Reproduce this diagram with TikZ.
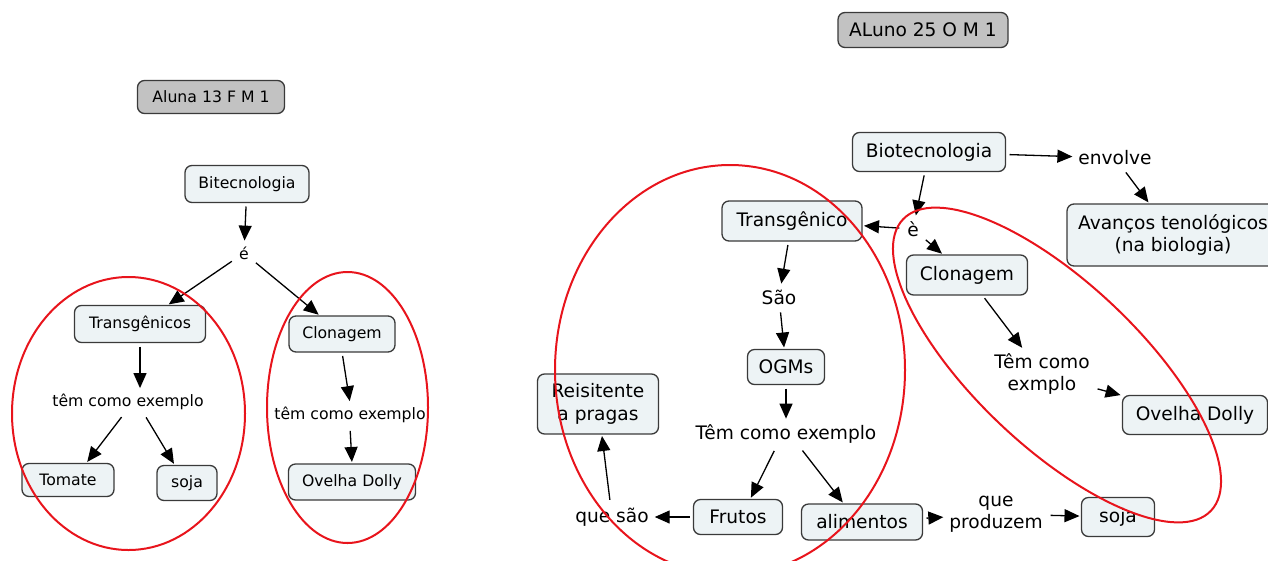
\documentclass[tikz,border=0pt]{standalone}
\usepackage{fontspec}
\setmainfont{DejaVu Sans}
\usetikzlibrary{arrows.meta}
\definecolor{boxfill}{HTML}{EDF3F5}
\definecolor{boxline}{HTML}{3A3A3A}
\definecolor{titlefill}{HTML}{C2C2C2}
\definecolor{ringred}{HTML}{E8141C}

\begin{document}
\begin{tikzpicture}[x=1pt,y=-1pt,
  concept/.style={draw=boxline, fill=boxfill, rounded corners=7pt, line width=1.3pt,
                  inner sep=0pt, outer sep=0pt, align=center},
  titlebox/.style={concept, fill=titlefill},
  phrase/.style={inner sep=1pt, outer sep=3pt, align=center},
  smalltext/.style={font=\fontsize{15.7}{18.5}\selectfont},
  bigtext/.style={font=\fontsize{18.6}{22.5}\selectfont},
  link/.style={line width=1.3pt, draw=black,
               -{Triangle[length=15pt,width=13pt]}, shorten <=4pt, shorten >=2pt},
  ring/.style={draw=ringred, line width=2pt}]

\useasboundingbox (0,0) rectangle (1268,560);
\clip (0,0) rectangle (1268,560);

% ---------- first map ----------
\node[titlebox,smalltext,minimum width=147,minimum height=33] (t1) at (211,97) {Aluna 13 F M 1};
\node[concept,smalltext,minimum width=124,minimum height=37] (bio1) at (247,184) {Bitecnologia};
\node[phrase,smalltext] (e1) at (244,253) {é};
\node[concept,smalltext,minimum width=131,minimum height=37] (tr1) at (140,324) {Transgênicos};
\node[concept,smalltext,minimum width=106,minimum height=36] (cl1) at (342,334) {Clonagem};
\node[phrase,smalltext] (ex1) at (128,402) {têm como exemplo};
\node[phrase,smalltext] (ex2) at (350,415) {têm como exemplo};
\node[concept,smalltext,minimum width=92,minimum height=33] (tom) at (68,480) {Tomate};
\node[concept,smalltext,minimum width=60,minimum height=35] (soja1) at (187,483) {soja};
\node[concept,smalltext,minimum width=127,minimum height=36] (od1) at (352,482) {Ovelha Dolly};

\draw[link] (bio1) -- (e1);
\draw[link] (e1) -- (tr1);
\draw[link] (e1) -- (cl1);
\draw[link] (tr1) -- (tr1 |- ex1.north);
\draw[link] ([xshift=-4]ex1.south) -- ([xshift=18]tom.north);
\draw[link] ([xshift=16]ex1.south) -- ([xshift=-12]soja1.north);
\draw[link] (cl1.south) -- (ex2.north);
\draw[link] (ex2.south) -- (od1.north);

\draw[ring] (128.5,413.5) ellipse [x radius=116.5, y radius=136.5];
\draw[ring] (347.5,407.5) ellipse [x radius=80.5, y radius=135.5];

% ---------- second map ----------
\node[titlebox,bigtext,minimum width=170,minimum height=35] (t2) at (923,30) {ALuno 25 O M 1};
\node[concept,bigtext,minimum width=153,minimum height=39] (bio2) at (929,152) {Biotecnologia};
\node[phrase,bigtext] (env) at (1115,158) {envolve};
\node[concept,bigtext,minimum width=212,minimum height=62] (avc) at (1173,235) {Avanços tenológicos\\(na biologia)};
\node[concept,bigtext,minimum width=140,minimum height=40] (tr2) at (792,221) {Transgênico};
\node[phrase,bigtext] (e2) at (913,229) {è};
\node[concept,bigtext,minimum width=121,minimum height=40] (cl2) at (967,275) {Clonagem};
\node[phrase,bigtext] (sao) at (779,297) {São};
\node[concept,bigtext,minimum width=77,minimum height=35] (ogm) at (786,367) {OGMs};
\node[phrase,bigtext] (ex3) at (786,434) {Têm como exemplo};
\node[phrase,bigtext] (ex4) at (1042,374) {Têm como\\exmplo};
\node[concept,bigtext,minimum width=145,minimum height=39] (od2) at (1195,415) {Ovelha Dolly};
\node[concept,bigtext,minimum width=121,minimum height=60] (res) at (598,404) {Reisitente\\a pragas};
\node[concept,bigtext,minimum width=89,minimum height=35] (fru) at (738,517) {Frutos};
\node[concept,bigtext,minimum width=121,minimum height=36] (ali) at (862,522) {alimentos};
\node[phrase,bigtext] (qs) at (612,517) {que são};
\node[phrase,bigtext] (qp) at (996,514) {que\\produzem};
\node[concept,bigtext,minimum width=73,minimum height=39] (soja2) at (1118,517) {soja};

\draw[link] (bio2) -- (env);
\draw[link] (env) -- (avc);
\draw[link] (bio2) -- (e2);
\draw[link] (e2) -- (tr2);
\draw[link] (e2) -- (cl2);
\draw[link] (tr2) -- (sao);
\draw[link] (sao) -- (ogm);
\draw[link] (ogm) -- (ex3);
\draw[link] ([xshift=-10]ex3.south) -- ([xshift=12]fru.north);
\draw[link] ([xshift=14]ex3.south) -- ([xshift=-18]ali.north);
\draw[link] (fru) -- (qs);
\draw[link] (qs) -- (res);
\draw[link] (ali) -- (qp);
\draw[link] (qp) -- (soja2);
\draw[link] (cl2) -- (ex4);
\draw[link] (ex4) -- (od2);

\draw[ring] (730,370) ellipse [x radius=175, y radius=205];
\draw[ring, rotate around={-43.4:(1057,365)}] (1057,365) ellipse [x radius=212, y radius=82];
\end{tikzpicture}
\end{document}
